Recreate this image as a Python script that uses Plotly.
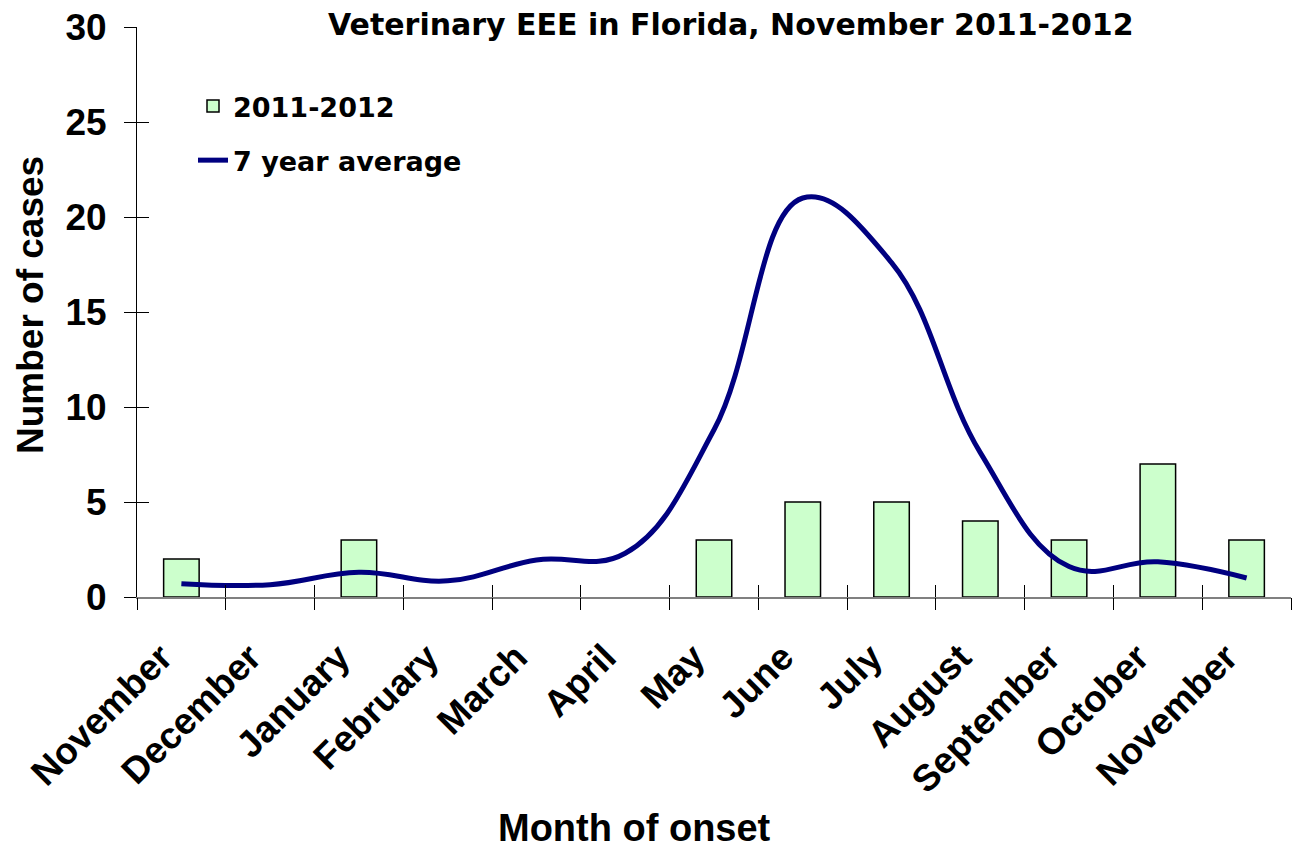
import plotly.graph_objects as go

months = ["November", "December", "January", "February", "March", "April", "May",
          "June", "July", "August", "September", "October", "November"]
cases_2011_2012 = [2, 0, 3, 0, 0, 0, 3, 5, 5, 4, 3, 7, 3]
seven_year_avg = [0.7, 0.65, 1.3, 0.85, 1.95, 2.3, 8.8, 21.0, 17.6, 7.6, 1.6, 1.85, 1.0]
y_ticks = [0, 5, 10, 15, 20, 25, 30]

x_pos = list(range(len(months)))
boundaries = [i - 0.5 for i in range(len(months) + 1)]
# months with no cases draw no bar at all
bar_heights = [v if v else None for v in cases_2011_2012]

W, H = 1299, 850
L, R, T, B = 137, 8, 27, 253
pw, ph = W - L - R, H - T - B

def px_x(p):
    return (p - L) / pw

def px_y(p):
    return (H - B - p) / ph

AX_FONT = "Liberation Sans, Arial, sans-serif"
WIDE_FONT = "DejaVu Sans, Liberation Sans, sans-serif"

fig = go.Figure()
fig.add_trace(go.Bar(
    x=x_pos, y=bar_heights, name="2011-2012", width=0.4,
    marker=dict(color="#CCFFCC", line=dict(color="black", width=1.5)),
    legendgroup="a",
))
fig.add_trace(go.Scatter(
    x=x_pos, y=seven_year_avg, name="7 year average", mode="lines",
    line=dict(color="#000080", width=5, shape="spline", smoothing=1.15),
    legendgroup="b",
))
# helper traces so overlay axes (crossing tick marks) are rendered
fig.add_trace(go.Scatter(x=[], y=[], xaxis="x2", yaxis="y", showlegend=False, hoverinfo="skip"))
fig.add_trace(go.Scatter(x=[], y=[], xaxis="x3", yaxis="y", showlegend=False, hoverinfo="skip"))
fig.add_trace(go.Scatter(x=[], y=[], xaxis="x", yaxis="y2", showlegend=False, hoverinfo="skip"))

xr = [-0.5, len(months) - 0.5]
yr = [0, 30]

fig.update_layout(
    width=W, height=H,
    margin=dict(l=L, r=R, t=T, b=B),
    paper_bgcolor="white", plot_bgcolor="white",
    font=dict(family=AX_FONT, color="black"),
    showlegend=True,
    legend=dict(x=px_x(193), y=px_y(82), xanchor="left", yanchor="top",
                font=dict(family=WIDE_FONT, size=27, color="black"),
                bgcolor="rgba(0,0,0,0)", tracegroupgap=16, traceorder="grouped"),
    xaxis=dict(range=xr, tickvals=x_pos, ticktext=months, ticks="", tickangle=-45,
               tickfont=dict(family=AX_FONT, size=37, color="black"),
               showline=True, linecolor="#808080", linewidth=1.5, showgrid=False,
               zeroline=False, ticklabelstandoff=22, ticklabelshift=-20),
    xaxis2=dict(range=xr, overlaying="x", anchor="y", tickvals=boundaries, ticks="outside",
                ticklen=12, tickcolor="black", tickwidth=1, showticklabels=False,
                showline=False, showgrid=False, zeroline=False),
    xaxis3=dict(range=xr, overlaying="x", anchor="y", tickvals=boundaries, ticks="inside",
                ticklen=12, tickcolor="black", tickwidth=1, showticklabels=False,
                showline=False, showgrid=False, zeroline=False),
    yaxis=dict(range=yr, tickvals=y_ticks, ticks="outside", ticklen=12, tickcolor="black",
               tickfont=dict(family=AX_FONT, size=37, color="black"),
               showline=True, linecolor="black", linewidth=1, showgrid=False,
               zeroline=False, ticklabelstandoff=10),
    yaxis2=dict(range=yr, overlaying="y", anchor="x", tickvals=y_ticks, ticks="inside",
                ticklen=12, tickcolor="black", showticklabels=False, showline=False,
                showgrid=False, zeroline=False),
    annotations=[
        dict(text="<b>Veterinary EEE in Florida, November 2011-2012</b>", xref="paper", yref="paper",
             x=px_x(731), y=px_y(25), xanchor="center", yanchor="middle", showarrow=False,
             font=dict(family=WIDE_FONT, size=30, color="black")),
        dict(text="<b>Month of onset</b>", xref="paper", yref="paper",
             x=px_x(634), y=px_y(828), xanchor="center", yanchor="middle", showarrow=False,
             font=dict(family=AX_FONT, size=38, color="black")),
        dict(text="<b>Number of cases</b>", xref="paper", yref="paper", textangle=-90,
             x=px_x(30), y=px_y(305), xanchor="center", yanchor="middle", showarrow=False,
             font=dict(family=AX_FONT, size=37, color="black")),
    ],
)
fig.update_xaxes(tickfont_weight="bold")
fig.update_yaxes(tickfont_weight="bold")
fig.update_layout(legend_font_weight="bold")

fig.write_html("out.html", config={"displayModeBar": False},
               post_script="document.body.style.margin='0px';document.body.style.overflow='hidden';")
